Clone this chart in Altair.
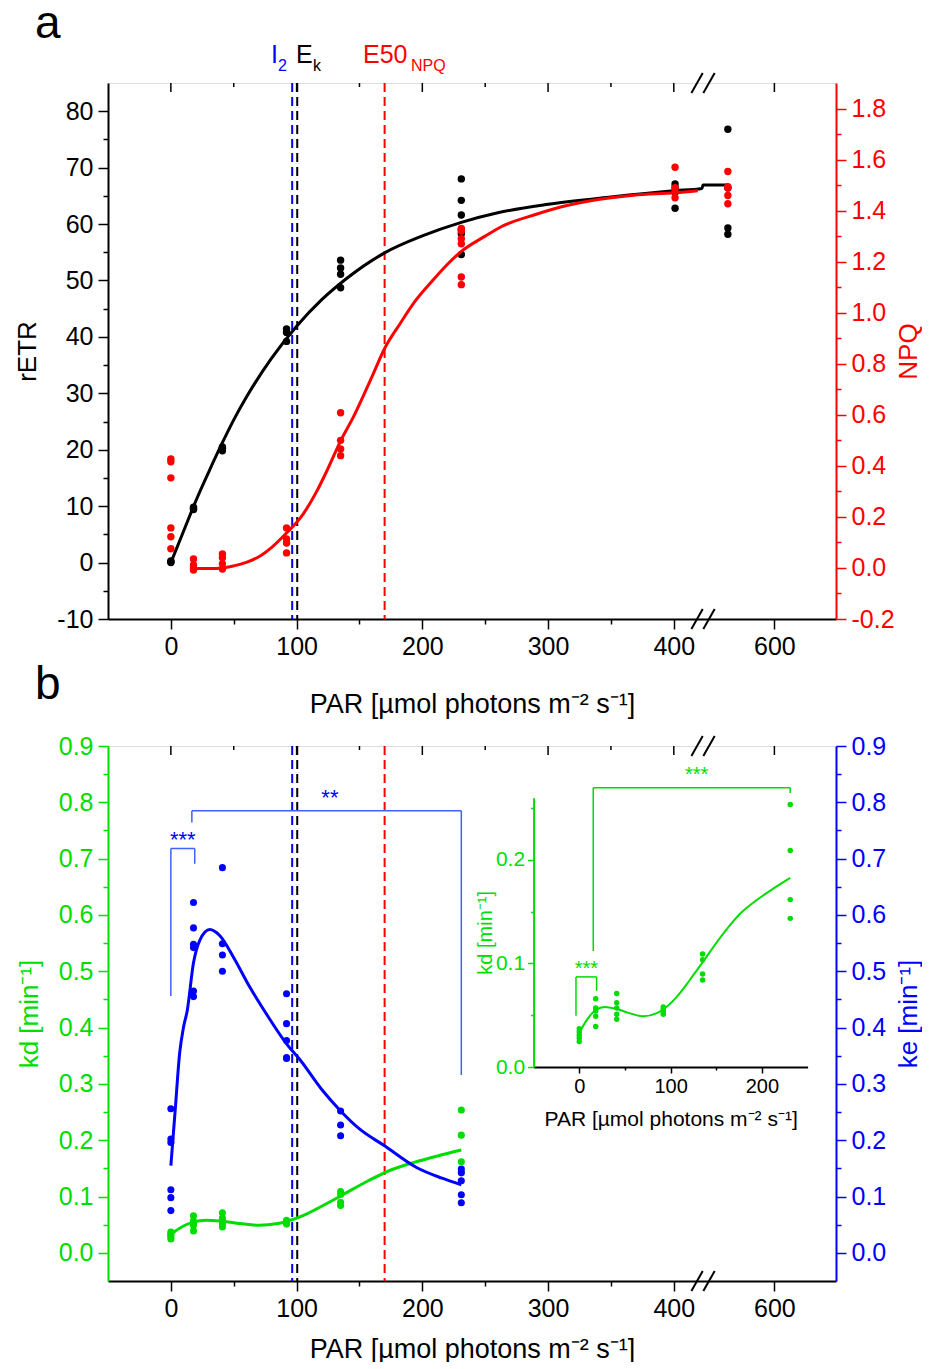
import altair as alt
import pandas as pd

FONT = "Liberation Sans"
BLACK = "#000000"
RED = "#ff0000"
BLUE = "#0000ff"
GREEN = "#00dd00"
LIGHT_BLUE = "#4060ff"

W, HA, HB = 728, 536, 535
XDOM = [-50, 529]          # display scale of the broken PAR axis (break at ~430)

# ---------------- panel a data ----------------
par_a = [0, 18, 41, 92, 135, 231, 401, 443]
retr_points = [
    [0.0, 0.1, 0.3],
    [9.4, 9.6, 9.8],
    [19.8, 20.2, 20.5],
    [39.2, 40.8, 41.4],
    [48.7, 51.1, 52.2, 53.6],
    [54.6, 58.3, 59.0, 61.6, 64.2, 68.0],
    [62.8, 65.6, 66.5, 67.1],
    [58.2, 59.3, 66.4, 76.8],
]
npq_points = [
    [0.075, 0.122, 0.157, 0.353, 0.416, 0.427],
    [-0.008, 0.0, 0.012, 0.035],
    [-0.004, 0.016, 0.04, 0.055],
    [0.059, 0.098, 0.114, 0.157],
    [0.44, 0.466, 0.50, 0.608],
    [1.11, 1.14, 1.27, 1.29, 1.32, 1.33],
    [1.45, 1.475, 1.49, 1.57],
    [1.427, 1.459, 1.49, 1.494, 1.553],
]
retr_fit_par = [0, 10, 20, 30, 40, 50, 60, 80, 100, 120, 140, 170, 200, 231, 260, 300,
                350, 400, 422.4, 423.2, 443]
retr_fit = [0, 5.5, 11, 16, 20.8, 25.3, 29.3, 36.2, 41.9, 46.6, 50.4, 54.9, 57.9, 60.3,
            62.0, 63.5, 64.8, 65.9, 66.3, 66.9, 66.9]
npq_fit_par = [18, 30, 41, 50, 60, 71, 80, 92, 103, 116, 125, 135, 145, 160, 170, 182, 195,
               208, 220, 231, 250, 262, 290, 315, 350, 368, 401, 419]
npq_fit = [-0.002, -0.002, 0.0, 0.008, 0.022, 0.047, 0.08, 0.137, 0.196, 0.30, 0.39, 0.498,
           0.59, 0.75, 0.86, 0.955, 1.05, 1.125, 1.19, 1.24, 1.30, 1.335, 1.385, 1.42, 1.45,
           1.46, 1.47, 1.478]

marker_par = [96.5, 100.5, 170]      # I2, Ek, E50NPQ
marker_colors = [BLUE, BLACK, RED]

# ---------------- panel b data ----------------
par_b = [0, 18, 41, 92, 135, 231]
ke_points = [
    [0.075, 0.098, 0.112, 0.196, 0.202, 0.256],
    [0.455, 0.465, 0.542, 0.548, 0.577, 0.622],
    [0.50, 0.529, 0.549, 0.684],
    [0.345, 0.347, 0.377, 0.407, 0.46],
    [0.208, 0.227, 0.252],
    [0.089, 0.103, 0.128, 0.142, 0.149],
]
kd_points = [
    [0.0245, 0.028, 0.031, 0.034, 0.037],
    [0.039, 0.049, 0.054, 0.057, 0.066],
    [0.046, 0.051, 0.057, 0.062, 0.071],
    [0.051, 0.053, 0.056, 0.058],
    [0.0839, 0.0897, 0.1035, 0.109],
    [0.1435, 0.1616, 0.209, 0.2535],
]
ke_fit_par = [0, 3.5, 7, 10, 13, 18, 23, 31, 39, 50, 63, 76, 92, 103, 120, 135, 150, 170,
              195, 215, 231]
ke_fit = [0.155, 0.255, 0.355, 0.40, 0.43, 0.515, 0.555, 0.574, 0.563, 0.524, 0.471, 0.424,
          0.371, 0.342, 0.29, 0.252, 0.22, 0.19, 0.152, 0.133, 0.121]
kd_fit_par = [0, 8, 18, 28, 41, 55, 70, 85, 92, 106, 121, 135, 157, 176, 194, 212, 231]
kd_fit = [0.033, 0.045, 0.055, 0.058, 0.056, 0.052, 0.049, 0.052, 0.0556, 0.067, 0.084,
          0.101, 0.128, 0.148, 0.161, 0.172, 0.1826]

# significance brackets (x from, x to, top, left end, right end)
ke_sig = [[0, 19, 0.718, 0.456, 0.691], [16.7, 231, 0.785, 0.764, 0.316]]
ke_sig_text = ["***", "**"]
ke_sig_text_x = [9.5, 126.5]
ke_sig_text_y = [0.742, 0.817]
kd_sig = [[-3.6, 19, 0.087, 0.0494, 0.0735], [15.3, 231, 0.2697, 0.112, 0.2645]]
kd_sig_text = ["***", "***"]
kd_sig_text_x = [7.7, 128.5]
kd_sig_text_y = [0.0997, 0.2864]

# axis ticks
x_ticks = [0, 50, 100, 150, 200, 250, 300, 350, 400, 480]
x_major = [0, 100, 200, 300, 400, 480]
x_minor = [50, 150, 250, 350]
retr_ticks = list(range(-10, 81, 5))
npq_ticks = [round(-0.2 + 0.1 * i, 1) for i in range(21)]
k_ticks = [round(0.05 * i, 2) for i in range(19)]
inset_x_ticks = [0, 50, 100, 150, 200]
inset_y_ticks = [0, 0.05, 0.1, 0.15, 0.2, 0.25]

# inset placement (pixels inside panel b)
IX_DOM, IX_RANGE = [-50, 250], [425.6, 699.6]
IY_DOM, IY_RANGE = [0, 0.26], [321, 51.7]

PAR_TITLE = "PAR [µmol photons m⁻² s⁻¹]"


def long_df(levels, groups, col):
    return pd.DataFrame([{"par": p, col: v} for p, vals in zip(levels, groups) for v in vals])


def sc(dom, rng=None):
    kw = dict(domain=dom, nice=False, zero=False)
    if rng is not None:
        kw["range"] = rng
    return alt.Scale(**kw)


def X(field, axis=None, dom=XDOM, rng=None):
    return alt.X(f"{field}:Q", scale=sc(dom, rng), axis=axis)


def Y(field, dom, axis=None, rng=None):
    return alt.Y(f"{field}:Q", scale=sc(dom, rng), axis=axis)


def make_axis(orient, values, major_test, color, title, label_expr, major=10, minor=5,
              lsize=25, tsize=26, **extra):
    kw = dict(orient=orient, values=values, title=title, grid=False,
              domainColor=color, domainWidth=2, tickColor=color, tickWidth=1.5,
              tickSize={"condition": {"test": major_test, "value": major}, "value": minor},
              labelExpr=label_expr, labelColor=color, titleColor=color,
              labelFont=FONT, titleFont=FONT, labelFontSize=lsize, titleFontSize=tsize,
              titleFontWeight="normal", labelOverlap=False, labelFlush=False, labelPadding=5)
    kw.update(extra)
    return alt.Axis(**kw)


def x_main_axis(title_pad):
    return make_axis("bottom", x_ticks, "datum.value % 100 == 0 || datum.value == 480", BLACK,
                     PAR_TITLE,
                     "datum.value == 480 ? '600' : (datum.value % 100 == 0 ? datum.label : '')",
                     tsize=27, titlePadding=title_pad)


def text(t, px, py, size, color, align="left", baseline="alphabetic"):
    return alt.Chart(pd.DataFrame({"d": [0]})).mark_text(
        text=t, font=FONT, fontSize=size, color=color, align=align, baseline=baseline
    ).encode(x=alt.value(px), y=alt.value(py))


def top_ticks():
    maj = alt.Chart(pd.DataFrame({"par": x_major})).mark_rule(color=BLACK, strokeWidth=1.5).encode(
        x=X("par"), y=alt.value(0), y2=alt.value(9))
    mnr = alt.Chart(pd.DataFrame({"par": x_minor})).mark_rule(color=BLACK, strokeWidth=1.5).encode(
        x=X("par"), y=alt.value(0), y2=alt.value(4))
    return [maj, mnr]


slash_df = pd.DataFrame({"x0": [414.0, 423.5], "x1": [423.0, 432.5]})


def slashes(ypix):
    return alt.Chart(slash_df).mark_rule(color=BLACK, strokeWidth=2).encode(
        x=X("x0"), x2="x1", y=alt.value(ypix + 10), y2=alt.value(ypix - 10))


def bracket_df(b):
    x0, x1, top, e0, e1 = b
    return pd.DataFrame({"x": [x0, x0, x1], "x2": [x0, x1, x1],
                         "y": [e0, top, top], "y2": [top, top, e1]})


def vlines():
    df = pd.DataFrame({"par": marker_par, "color": marker_colors})
    return alt.Chart(df).mark_rule(strokeDash=[9, 5], strokeWidth=2).encode(
        x=X("par"), color=alt.Color("color:N", scale=None))


# ================= panel a =================
retr_df = long_df(par_a, retr_points, "retr")
npq_df = long_df(par_a, npq_points, "npq")
retr_fit_df = pd.DataFrame({"par": retr_fit_par, "retr": retr_fit})
npq_fit_df = pd.DataFrame({"par": npq_fit_par, "npq": npq_fit})

RETR_DOM = [-10, 85]
NPQ_DOM = [-0.2, 1.9]

retr_axis = make_axis("left", retr_ticks, "datum.value % 10 == 0", BLACK, "rETR",
                      "datum.value % 10 == 0 ? '' + datum.value : ''", titlePadding=16)
npq_axis = make_axis("right", npq_ticks, "abs(round(datum.value*10)) % 2 == 0", RED, "NPQ",
                     "abs(round(datum.value*10)) % 2 == 0 ? replace(format(datum.value, '.1f'), '\u2212', '-') : ''",
                     titleAngle=270, titleBaseline="alphabetic", titleX=80, titleY=HA / 2)

a_layers = [
    vlines(),
    alt.Chart(retr_fit_df).mark_line(color=BLACK, strokeWidth=3, interpolate="monotone").encode(
        x=X("par", axis=x_main_axis(32)), y=Y("retr", RETR_DOM, axis=retr_axis)),
    alt.Chart(retr_df).mark_circle(size=55, opacity=1, color=BLACK).encode(
        x=X("par"), y=Y("retr", RETR_DOM)),
    alt.Chart(npq_fit_df).mark_line(color=RED, strokeWidth=3, interpolate="monotone").encode(
        x=X("par"), y=Y("npq", NPQ_DOM, axis=npq_axis)),
    alt.Chart(npq_df).mark_circle(size=55, opacity=1, color=RED).encode(
        x=X("par"), y=Y("npq", NPQ_DOM)),
    *top_ticks(),
    slashes(0),
    slashes(HA),
    text("a", -73, -45, 46, BLACK),
    text("b", -73, 616, 46, BLACK),
    text("I", 163, -20, 25, BLUE),
    text("2", 170, -12, 16, BLUE),
    text("E", 188, -20, 25, BLACK),
    text("k", 205, -12, 16, BLACK),
    text("E50", 255, -20, 25, RED),
    text("NPQ", 303, -12, 16, RED),
]
panel_a = alt.layer(*a_layers).resolve_scale(x="independent", y="independent").properties(
    width=W, height=HA)

# ================= panel b =================
K_DOM = [-0.05, 0.9]
ke_df = long_df(par_b, ke_points, "ke")
kd_df = long_df(par_b, kd_points, "kd")
ke_fit_df = pd.DataFrame({"par": ke_fit_par, "ke": ke_fit})
kd_fit_df = pd.DataFrame({"par": kd_fit_par, "kd": kd_fit})

k_test = "round(datum.value*100) % 10 == 0"
k_label = "round(datum.value*100) % 10 == 0 ? format(datum.value, '.1f') : ''"
kd_axis = make_axis("left", k_ticks, k_test, GREEN, "kd [min⁻¹]", k_label, titlePadding=16)
ke_axis = make_axis("right", k_ticks, k_test, BLUE, "ke [min⁻¹]", k_label,
                    titleAngle=270, titleBaseline="alphabetic", titleX=80, titleY=HB / 2)

inset_x_axis = make_axis("bottom", inset_x_ticks, "datum.value % 100 == 0", BLACK, PAR_TITLE,
                         "datum.value % 100 == 0 ? datum.label : ''",
                         major=6, minor=3, lsize=20, tsize=21, offset=IY_RANGE[0] - HB,
                         titlePadding=12, labelPadding=3)
inset_y_axis = make_axis("left", inset_y_ticks, "round(datum.value*100) % 10 == 0", GREEN,
                         "kd [min⁻¹]", k_label, major=6, minor=3, lsize=21, tsize=20,
                         offset=-IX_RANGE[0], titlePadding=0, labelPadding=3)


def ix(field, axis=None):
    return X(field, axis=axis, dom=IX_DOM, rng=IX_RANGE)


def iy(field, axis=None):
    return Y(field, IY_DOM, axis=axis, rng=IY_RANGE)


b_layers = [vlines()]
for b in ke_sig:
    b_layers.append(alt.Chart(bracket_df(b)).mark_rule(color=LIGHT_BLUE, strokeWidth=1.5).encode(
        x=X("x"), x2="x2", y=Y("y", K_DOM), y2="y2"))
b_layers.append(alt.Chart(pd.DataFrame({"par": ke_sig_text_x, "k": ke_sig_text_y, "t": ke_sig_text}))
                .mark_text(font=FONT, fontSize=22, color=BLUE, baseline="middle", dy=5)
                .encode(x=X("par"), y=Y("k", K_DOM), text="t:N"))
b_layers += [
    alt.Chart(kd_fit_df).mark_line(color=GREEN, strokeWidth=3, interpolate="monotone").encode(
        x=X("par", axis=x_main_axis(15)), y=Y("kd", K_DOM, axis=kd_axis)),
    alt.Chart(kd_df).mark_circle(size=50, opacity=1, color=GREEN).encode(
        x=X("par"), y=Y("kd", K_DOM)),
    alt.Chart(ke_fit_df).mark_line(color=BLUE, strokeWidth=3, interpolate="monotone").encode(
        x=X("par"), y=Y("ke", K_DOM, axis=ke_axis)),
    alt.Chart(ke_df).mark_circle(size=50, opacity=1, color=BLUE).encode(
        x=X("par"), y=Y("ke", K_DOM)),
    *top_ticks(),
    slashes(0),
    slashes(HB),
]
# inset
for b in kd_sig:
    b_layers.append(alt.Chart(bracket_df(b)).mark_rule(color=GREEN, strokeWidth=1.5).encode(
        x=ix("x"), x2="x2", y=iy("y"), y2="y2"))
b_layers.append(alt.Chart(pd.DataFrame({"par": kd_sig_text_x, "k": kd_sig_text_y, "t": kd_sig_text}))
                .mark_text(font=FONT, fontSize=20, color=GREEN, baseline="middle", dy=5)
                .encode(x=ix("par"), y=iy("k"), text="t:N"))
b_layers += [
    alt.Chart(kd_fit_df).mark_line(color=GREEN, strokeWidth=2, interpolate="monotone").encode(
        x=ix("par", axis=inset_x_axis), y=iy("kd", axis=inset_y_axis)),
    alt.Chart(kd_df).mark_circle(size=30, opacity=1, color=GREEN).encode(
        x=ix("par"), y=iy("kd")),
]
panel_b = alt.layer(*b_layers).resolve_scale(x="independent", y="independent").properties(
    width=W, height=HB)

chart = alt.vconcat(panel_a, panel_b, spacing=127, bounds="flush").properties(
    padding={"left": 6, "top": -8, "right": 0, "bottom": -1}
).configure_view(stroke=BLACK, strokeWidth=2).configure(background="white")

chart.save("out.html", embed_options={"renderer": "svg", "actions": False})
